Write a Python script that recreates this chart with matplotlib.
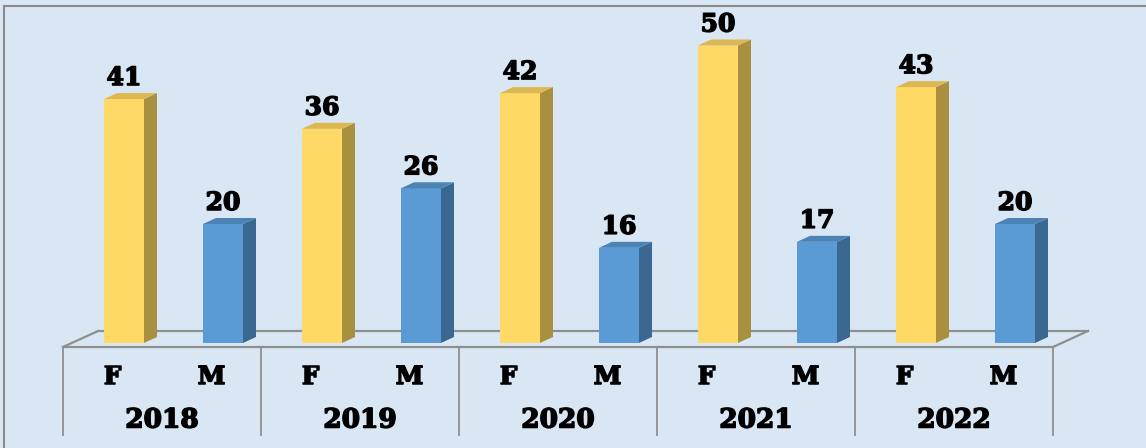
import numpy as np
import matplotlib.pyplot as plt
import matplotlib.patheffects as pe
from matplotlib.patches import Polygon
from matplotlib.lines import Line2D

# data
years = ['2018', '2019', '2020', '2021', '2022']
sexes = ['F', 'M']
values = [41, 20, 36, 26, 42, 16, 50, 17, 43, 20]

# colours per sex: front, top, side
front = {'F': '#FFD966', 'M': '#5B9BD5'}
top = {'F': '#DDB752', 'M': '#4D83B4'}
side = {'F': '#A8903F', 'M': '#3A6891'}

W, H = 1146, 448
px_cat = 99.0      # pixels per category slot
px_val = 5.95      # pixels per value unit
x0_px = 112.5      # pixel x of first slot centre
y0_px = 343.0      # pixel y (from top) of value 0

bg = '#D9E7F4'
fig = plt.figure(figsize=(W / 100, H / 100), dpi=100)
fig.patch.set_facecolor(bg)
ax = fig.add_axes([0, 0, 1, 1])
ax.set_facecolor(bg)
ax.set_xlim(-x0_px / px_cat, (W - x0_px) / px_cat)
ax.set_ylim(-(H - y0_px) / px_val, y0_px / px_val)
ax.axis('off')

def vy(ypx):
    # pixel y from top -> value units
    return (y0_px - ypx) / px_val

bw = 40 / px_cat           # front face width
ddx = 13 / px_cat          # depth offset x
ddy = 6 / px_val           # depth offset y
shift = 11.5 / px_cat      # bar shift inside slot
fdx = 35 / px_cat          # floor depth x
n = len(values)

# floor outline
fy0, fy1 = vy(347), vy(331)
xl, xr = -0.5, n - 0.5
gray = '#8F8F8F'
ax.plot([xl, xr], [fy0, fy0], color=gray, lw=1.6, zorder=2)
ax.plot([xl + fdx, xr + fdx], [fy1, fy1], color=gray, lw=1.6, zorder=1)
ax.plot([xl, xl + fdx], [fy0, fy1], color=gray, lw=1.6, zorder=1)
ax.plot([xr, xr + fdx], [fy0, fy1], color=gray, lw=1.6, zorder=1)

# group dividers
for k in range(len(years) + 1):
    xd = -0.5 + 2 * k
    ax.plot([xd, xd], [fy0, vy(435)], color=gray, lw=1.3, zorder=2)

thick = [pe.withStroke(linewidth=1.1, foreground='black')]
font = dict(fontweight='heavy', family='DejaVu Serif', zorder=4, path_effects=thick)

# bars
for i, v in enumerate(values):
    s = sexes[i % 2]
    xc = i + shift
    a, b = xc - bw / 2, xc + bw / 2
    ax.add_patch(Polygon([(a, 0), (b, 0), (b, v), (a, v)], closed=True,
                         facecolor=front[s], edgecolor='none', zorder=3))
    ax.add_patch(Polygon([(b, 0), (b + ddx, ddy), (b + ddx, v + ddy), (b, v)],
                         closed=True, facecolor=side[s], edgecolor='none', zorder=3))
    ax.add_patch(Polygon([(a, v), (b, v), (b + ddx, v + ddy), (a + ddx, v + ddy)],
                         closed=True, facecolor=top[s], edgecolor='none', zorder=3))
    ax.text(xc, v + ddy + 3 / px_val, str(v), ha='center', va='bottom',
            fontsize=18, **font)
    ax.text(i, vy(377), s, ha='center', va='center', fontsize=18, **font)

for k, yr in enumerate(years):
    ax.text(2 * k + 0.5, vy(420), yr, ha='center', va='center',
            fontsize=19, **font)

# picture frame (top and left)
fig.add_artist(Line2D([4 / W, 1], [1 - 6 / H, 1 - 6 / H], color='#8A8A8A', lw=1.5))
fig.add_artist(Line2D([4 / W, 4 / W], [0, 1 - 6 / H], color='#8A8A8A', lw=1.5))

fig.savefig('out.png', dpi=100, facecolor=fig.get_facecolor())
